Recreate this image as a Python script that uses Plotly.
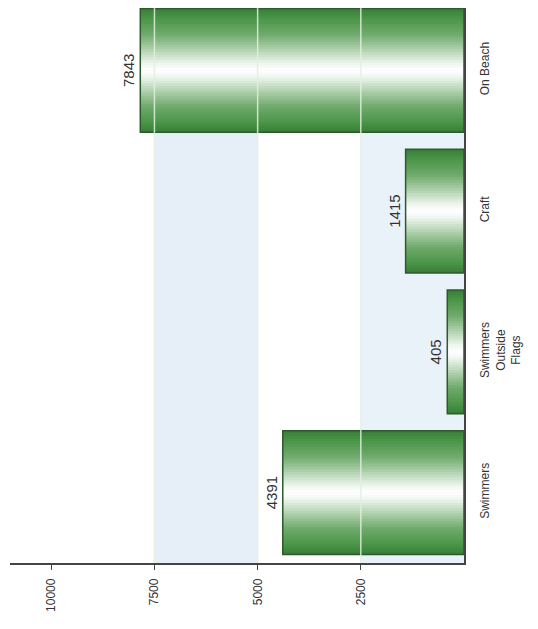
import plotly.graph_objects as go

categories = ["Swimmers", "Swimmers<br>Outside<br>Flags", "Craft", "On Beach"]
values = [4391, 405, 1415, 7843]
value_labels = ["4391", "405", "1415", "7843"]
tick_vals = [2500, 5000, 7500, 10000]
tick_text = ["2500", "5000", "7500", "10000"]

BAR_W = 0.88
N = 24

def lerp(a, b, t):
    return tuple(int(round(a[i] + (b[i] - a[i]) * t)) for i in range(3))

# colour profile across the bar (0 = centre, 1 = edge)
stops = [(0.0, (255, 255, 255)), (0.1, (240, 247, 240)), (0.32, (180, 212, 178)),
         (0.58, (112, 170, 108)), (0.85, (72, 148, 70)), (1.0, (56, 124, 56))]

def colour_at(t):
    for (t0, c0), (t1, c1) in zip(stops[:-1], stops[1:]):
        if t <= t1:
            return "rgb(%d,%d,%d)" % lerp(c0, c1, (t - t0) / (t1 - t0))
    return "rgb(%d,%d,%d)" % stops[-1][1]

fig = go.Figure()
for i in range(N, 0, -1):
    d = i / N
    fig.add_trace(go.Bar(
        y=categories, x=values, orientation="h",
        width=BAR_W * d,
        marker=dict(color=colour_at(d - 0.5 / N), line=dict(width=0)),
        hoverinfo="skip", showlegend=False,
    ))

# outline + value labels on top
fig.add_trace(go.Bar(
    y=categories, x=values, orientation="h", width=BAR_W,
    marker=dict(color="rgba(0,0,0,0)", line=dict(color="#2d5a2d", width=1.5)),
    text=value_labels, textposition="outside", textangle=-90,
    textfont=dict(size=15, color="#333333", family="Liberation Sans, Arial"),
    cliponaxis=False, showlegend=False,
))

shapes = []
# alternating background bands
band_edges = [0] + tick_vals
band_cols = ["#eaf2f9", "#ffffff", "#e6eff8", "#ffffff"]
for (a, b), col in zip(zip(band_edges[:-1], band_edges[1:]), band_cols):
    shapes.append(dict(type="rect", xref="x", yref="paper", x0=a, x1=b, y0=0, y1=1,
                       fillcolor=col, line=dict(width=0), layer="below"))
# light grid lines drawn over the bars
for v in tick_vals[:-1]:
    shapes.append(dict(type="line", xref="x", yref="paper", x0=v, x1=v, y0=0, y1=1,
                       line=dict(color="rgba(225,240,225,0.85)", width=1.5), layer="above"))

fig.update_layout(
    width=530, height=621,
    margin=dict(l=2, r=74, t=0, b=66),
    barmode="overlay",
    paper_bgcolor="white", plot_bgcolor="white",
    font=dict(family="Liberation Sans, Arial", color="#333333"),
    shapes=shapes,
    xaxis=dict(range=[11000, 0], tickvals=tick_vals, ticktext=tick_text,
               tickangle=-90, tickfont=dict(size=12), showgrid=False, zeroline=False,
               showline=True, linecolor="#444444", linewidth=1.5,
               ticks="outside", ticklen=5, tickcolor="#444444", automargin=False,
               ticklabelstandoff=4),
    yaxis=dict(side="right", tickangle=-90, tickfont=dict(size=12), showgrid=False,
               showline=True, linecolor="#444444", linewidth=1.5, ticks="",
               zeroline=False, automargin=False, range=[-0.5, 3.443],
               ticklabelstandoff=9),
)

fig.write_html("out.html")
